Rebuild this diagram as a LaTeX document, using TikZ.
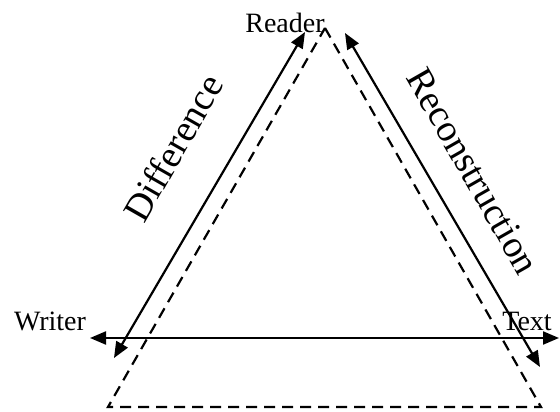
\documentclass[tikz,border=0pt]{standalone}
\usepackage{fontspec}
\setmainfont{Liberation Serif}
\usetikzlibrary{arrows.meta}
\begin{document}
\begin{tikzpicture}[x=1pt,y=-1pt,
  lbl/.style={font=\fontsize{28}{30}\selectfont,inner sep=0pt,anchor=base},
  side/.style={font=\fontsize{38}{40}\selectfont,inner sep=0pt},
  link/.style={line width=2.2pt,{Triangle[length=16pt,width=13pt]}-{Triangle[length=16pt,width=13pt]}},
  bound/.style={line width=2.2pt,dash pattern=on 11pt off 7pt}]
\useasboundingbox (0,0) rectangle (560,412);
\coordinate (apex) at (325,28);
\coordinate (baseL) at (108,407);
\coordinate (baseR) at (541,407);
\draw[bound] (apex) -- (baseR) -- (baseL) -- cycle;
\node[lbl] (reader) at (285,33) {Reader};
\node[lbl] (writer) at (50,330) {Writer};
\node[lbl] (text) at (527,330) {Text};
\coordinate (rdL) at (305,32);
\coordinate (wrT) at (114,358);
\coordinate (rdR) at (345,33);
\coordinate (txB) at (540,367);
\coordinate (wrE) at (90,338);
\coordinate (txE) at (559,338);
\draw[link] (wrT) -- (rdL);
\draw[link] (rdR) -- (txB);
\draw[link] (wrE) -- (txE);
\node[side,rotate=60.3] (diff) at (173,148) {Difference};
\node[side,rotate=-60.3] (recon) at (473,171) {Reconstruction};
\end{tikzpicture}
\end{document}
